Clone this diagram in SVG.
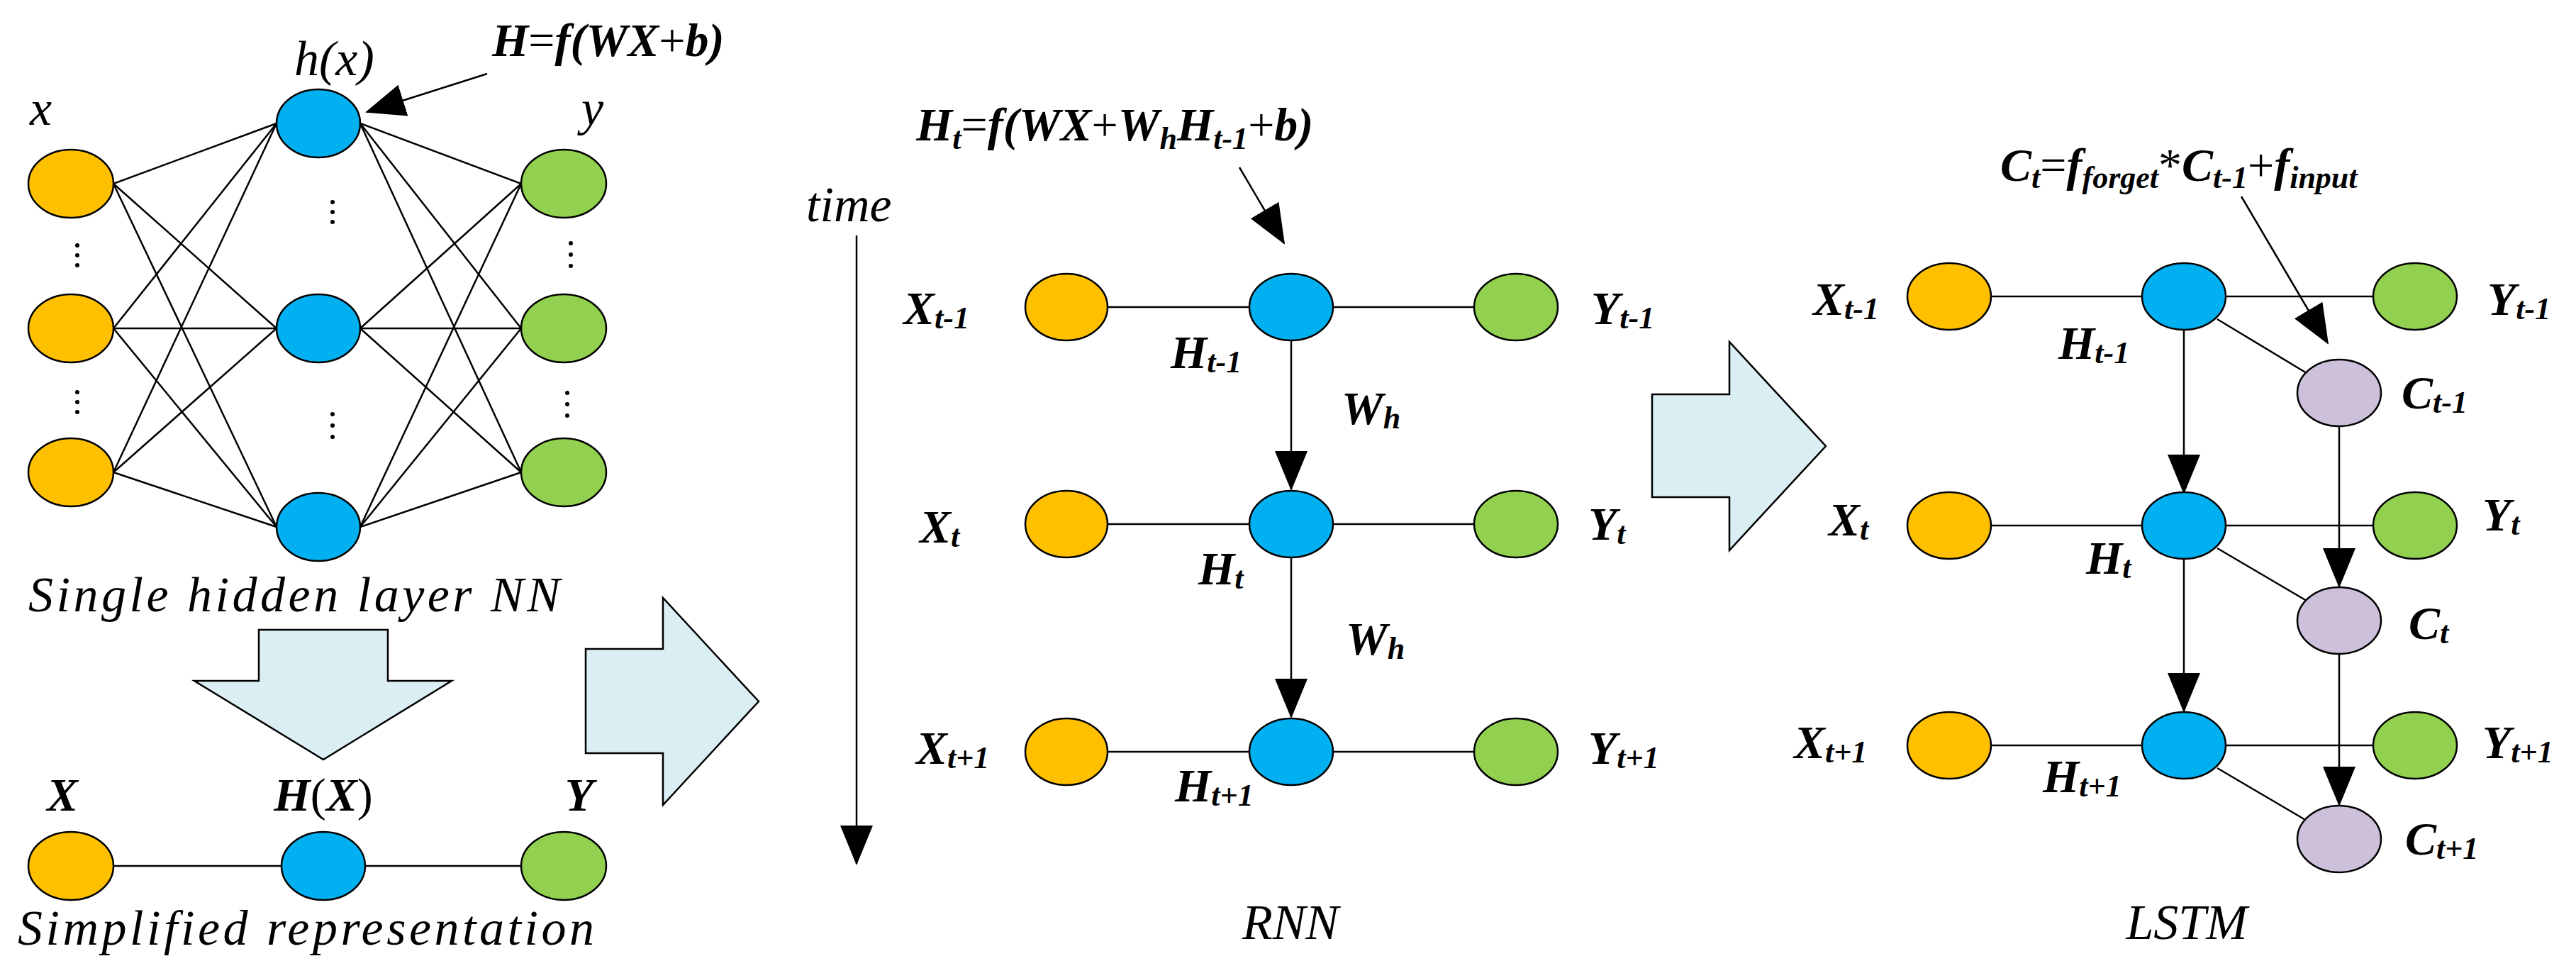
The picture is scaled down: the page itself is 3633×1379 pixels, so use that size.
<svg xmlns="http://www.w3.org/2000/svg" width="3633" height="1379" viewBox="0 0 3633 1379">
<style>
.n{stroke:#000;stroke-width:2.5}
.o{fill:#FFC000}.b{fill:#00B0F0}.g{fill:#92D050}.p{fill:#CCC0DA}
.l{stroke:#000;stroke-width:2.5;fill:none}
.big{fill:#DAEEF3;stroke:#000;stroke-width:2.5}
.t{font-family:"Liberation Serif",serif;font-style:italic;font-weight:bold;font-size:66px;fill:#000}
.c{font-family:"Liberation Serif",serif;font-style:italic;font-size:70px;fill:#000}
.s{font-size:44px}
.u{font-weight:normal;font-style:normal}
.d{font-family:"Liberation Serif",serif;font-size:40px;fill:#000}
</style>
<defs>
<marker id="ah" markerUnits="userSpaceOnUse" markerWidth="56" markerHeight="46" refX="54" refY="23" orient="auto">
<path d="M0,0 L56,23 L0,46 z" fill="#000"/>
</marker>
</defs>
<g id="connectors">
<!-- NN edges -->
<g class="l">
<line x1="160" y1="259" x2="390" y2="174"/><line x1="160" y1="259" x2="390" y2="463"/><line x1="160" y1="259" x2="390" y2="743"/>
<line x1="160" y1="463" x2="390" y2="174"/><line x1="160" y1="463" x2="390" y2="463"/><line x1="160" y1="463" x2="390" y2="743"/>
<line x1="160" y1="666" x2="390" y2="174"/><line x1="160" y1="666" x2="390" y2="463"/><line x1="160" y1="666" x2="390" y2="743"/>
<line x1="508" y1="174" x2="735" y2="259"/><line x1="508" y1="174" x2="735" y2="463"/><line x1="508" y1="174" x2="735" y2="666"/>
<line x1="508" y1="463" x2="735" y2="259"/><line x1="508" y1="463" x2="735" y2="463"/><line x1="508" y1="463" x2="735" y2="666"/>
<line x1="508" y1="743" x2="735" y2="259"/><line x1="508" y1="743" x2="735" y2="463"/><line x1="508" y1="743" x2="735" y2="666"/>
<line x1="160" y1="1221" x2="735" y2="1221"/>
<!-- RNN -->
<line x1="1504" y1="433" x2="2138" y2="433"/><line x1="1504" y1="739" x2="2138" y2="739"/><line x1="1504" y1="1060" x2="2138" y2="1060"/>
<!-- LSTM -->
<line x1="2749" y1="418" x2="3406" y2="418"/><line x1="2749" y1="741" x2="3406" y2="741"/><line x1="2749" y1="1051" x2="3406" y2="1051"/>
<line x1="3127" y1="450" x2="3253" y2="526"/><line x1="3127" y1="773" x2="3253" y2="847"/><line x1="3127" y1="1083" x2="3253" y2="1157"/>
</g>
<g class="l" marker-end="url(#ah)">
<line x1="687" y1="104" x2="517" y2="158"/>
<line x1="1208" y1="332" x2="1208" y2="1218"/>
<line x1="1748" y1="236" x2="1811" y2="343"/>
<line x1="1821" y1="481" x2="1821" y2="690"/>
<line x1="1821" y1="787" x2="1821" y2="1011"/>
<line x1="3080" y1="466" x2="3080" y2="695"/>
<line x1="3080" y1="789" x2="3080" y2="1003"/>
<line x1="3299" y1="602" x2="3299" y2="827"/>
<line x1="3299" y1="923" x2="3299" y2="1135"/>
<line x1="3161" y1="277" x2="3283" y2="484"/>
</g>
</g>
<g id="bigarrows">
<polygon class="big" points="365,888 547,888 547,960 637,960 456,1071 274,960 365,960"/>
<polygon class="big" points="826,915 935,915 935,843 1070,989 935,1135 935,1062 826,1062"/>
<polygon class="big" points="2330,556 2439,556 2439,482 2575,629 2439,776 2439,701 2330,701"/>
</g>
<g id="nn">
<g id="nn-x1"><ellipse class="n o" cx="100" cy="259" rx="60" ry="48"/></g>
<g id="nn-x2"><ellipse class="n o" cx="100" cy="463" rx="60" ry="48"/></g>
<g id="nn-x3"><ellipse class="n o" cx="100" cy="666" rx="60" ry="48"/></g>
<g id="nn-h1"><ellipse class="n b" cx="449" cy="174" rx="59" ry="48"/></g>
<g id="nn-h2"><ellipse class="n b" cx="449" cy="463" rx="59" ry="48"/></g>
<g id="nn-h3"><ellipse class="n b" cx="449" cy="743" rx="59" ry="48"/></g>
<g id="nn-y1"><ellipse class="n g" cx="795" cy="259" rx="60" ry="48"/></g>
<g id="nn-y2"><ellipse class="n g" cx="795" cy="463" rx="60" ry="48"/></g>
<g id="nn-y3"><ellipse class="n g" cx="795" cy="666" rx="60" ry="48"/></g>
<g fill="#000">
<circle cx="109" cy="346" r="3"/><circle cx="109" cy="360" r="3"/><circle cx="109" cy="374" r="3"/>
<circle cx="109" cy="553" r="3"/><circle cx="109" cy="567" r="3"/><circle cx="109" cy="581" r="3"/>
<circle cx="469" cy="285" r="3"/><circle cx="469" cy="299" r="3"/><circle cx="469" cy="313" r="3"/>
<circle cx="469" cy="584" r="3"/><circle cx="469" cy="600" r="3"/><circle cx="469" cy="616" r="3"/>
<circle cx="805" cy="343" r="3"/><circle cx="805" cy="359" r="3"/><circle cx="805" cy="375" r="3"/>
<circle cx="800" cy="554" r="3"/><circle cx="800" cy="570" r="3"/><circle cx="800" cy="586" r="3"/>
</g>
<text class="c" x="42" y="176">x</text>
<text class="c" x="415" y="106">h(x)</text>
<text class="c" x="820" y="176">y</text>
<text class="t" x="694" y="79">H<tspan class="u">=</tspan>f(WX<tspan class="u">+</tspan>b)</text>
<text class="c" x="40" y="862" textLength="750" lengthAdjust="spacing">Single hidden layer NN</text>
</g>
<g id="simple">
<g id="s-x"><ellipse class="n o" cx="100" cy="1221" rx="60" ry="48"/></g>
<g id="s-h"><ellipse class="n b" cx="456" cy="1221" rx="59" ry="48"/></g>
<g id="s-y"><ellipse class="n g" cx="795" cy="1221" rx="60" ry="48"/></g>
<text class="t" x="88" y="1143" text-anchor="middle">X</text>
<text class="t" x="456" y="1143" text-anchor="middle">H<tspan class="u">(</tspan>X<tspan class="u">)</tspan></text>
<text class="t" x="817" y="1143" text-anchor="middle">Y</text>
<text class="c" x="25" y="1332" textLength="813" lengthAdjust="spacing">Simplified representation</text>
</g>
<g id="rnn">
<text class="c" x="1137" y="312">time</text>
<text class="t" x="1292" y="198">H<tspan class="s" dy="12">t</tspan><tspan class="u" dy="-12">=</tspan>f(WX<tspan class="u">+</tspan>W<tspan class="s" dy="12">h</tspan><tspan dy="-12">H</tspan><tspan class="s" dy="12">t-1</tspan><tspan class="u" dy="-12">+</tspan>b)</text>
<g id="r-x1"><ellipse class="n o" cx="1504" cy="433" rx="58" ry="47"/></g>
<g id="r-h1"><ellipse class="n b" cx="1821" cy="433" rx="59" ry="47"/></g>
<g id="r-y1"><ellipse class="n g" cx="2138" cy="433" rx="59" ry="47"/></g>
<g id="r-x2"><ellipse class="n o" cx="1504" cy="739" rx="58" ry="47"/></g>
<g id="r-h2"><ellipse class="n b" cx="1821" cy="739" rx="59" ry="47"/></g>
<g id="r-y2"><ellipse class="n g" cx="2138" cy="739" rx="59" ry="47"/></g>
<g id="r-x3"><ellipse class="n o" cx="1504" cy="1060" rx="58" ry="47"/></g>
<g id="r-h3"><ellipse class="n b" cx="1821" cy="1060" rx="59" ry="47"/></g>
<g id="r-y3"><ellipse class="n g" cx="2138" cy="1060" rx="59" ry="47"/></g>
<text class="t" x="1274" y="457">X<tspan class="s" dy="6">t-1</tspan></text>
<text class="t" x="1297" y="765">X<tspan class="s" dy="6">t</tspan></text>
<text class="t" x="1292" y="1077">X<tspan class="s" dy="6">t+1</tspan></text>
<text class="t" x="1651" y="519">H<tspan class="s" dy="6">t-1</tspan></text>
<text class="t" x="1690" y="824">H<tspan class="s" dy="6">t</tspan></text>
<text class="t" x="1657" y="1130">H<tspan class="s" dy="6">t+1</tspan></text>
<text class="t" x="2244" y="457">Y<tspan class="s" dy="6">t-1</tspan></text>
<text class="t" x="2240" y="761">Y<tspan class="s" dy="6">t</tspan></text>
<text class="t" x="2240" y="1077">Y<tspan class="s" dy="6">t+1</tspan></text>
<text class="t" x="1892" y="598">W<tspan class="s" dy="6">h</tspan></text>
<text class="t" x="1898" y="923">W<tspan class="s" dy="6">h</tspan></text>
<text class="c" x="1820" y="1324" text-anchor="middle">RNN</text>
</g>
<g id="lstm">
<text class="t" x="2821" y="255">C<tspan class="s" dy="10">t</tspan><tspan class="u" dy="-10">=</tspan>f<tspan class="s" dy="10">forget</tspan><tspan class="u" dy="-10">*</tspan>C<tspan class="s" dy="10">t-1</tspan><tspan class="u" dy="-10">+</tspan>f<tspan class="s" dy="10">input</tspan></text>
<g id="l-x1"><ellipse class="n o" cx="2749" cy="418" rx="59" ry="47"/></g>
<g id="l-h1"><ellipse class="n b" cx="3080" cy="418" rx="59" ry="47"/></g>
<g id="l-y1"><ellipse class="n g" cx="3406" cy="418" rx="59" ry="47"/></g>
<g id="l-c1"><ellipse class="n p" cx="3299" cy="554" rx="59" ry="47"/></g>
<g id="l-x2"><ellipse class="n o" cx="2749" cy="741" rx="59" ry="47"/></g>
<g id="l-h2"><ellipse class="n b" cx="3080" cy="741" rx="59" ry="47"/></g>
<g id="l-y2"><ellipse class="n g" cx="3406" cy="741" rx="59" ry="47"/></g>
<g id="l-c2"><ellipse class="n p" cx="3299" cy="875" rx="59" ry="47"/></g>
<g id="l-x3"><ellipse class="n o" cx="2749" cy="1051" rx="59" ry="47"/></g>
<g id="l-h3"><ellipse class="n b" cx="3080" cy="1051" rx="59" ry="47"/></g>
<g id="l-y3"><ellipse class="n g" cx="3406" cy="1051" rx="59" ry="47"/></g>
<g id="l-c3"><ellipse class="n p" cx="3299" cy="1183" rx="59" ry="47"/></g>
<text class="t" x="2557" y="444">X<tspan class="s" dy="6">t-1</tspan></text>
<text class="t" x="2579" y="755">X<tspan class="s" dy="6">t</tspan></text>
<text class="t" x="2530" y="1069">X<tspan class="s" dy="6">t+1</tspan></text>
<text class="t" x="2903" y="506">H<tspan class="s" dy="6">t-1</tspan></text>
<text class="t" x="2942" y="809">H<tspan class="s" dy="6">t</tspan></text>
<text class="t" x="2881" y="1117">H<tspan class="s" dy="6">t+1</tspan></text>
<text class="t" x="3508" y="444">Y<tspan class="s" dy="6">t-1</tspan></text>
<text class="t" x="3501" y="748">Y<tspan class="s" dy="6">t</tspan></text>
<text class="t" x="3501" y="1069">Y<tspan class="s" dy="6">t+1</tspan></text>
<text class="t" x="3387" y="576">C<tspan class="s" dy="6">t-1</tspan></text>
<text class="t" x="3397" y="901">C<tspan class="s" dy="6">t</tspan></text>
<text class="t" x="3392" y="1205">C<tspan class="s" dy="6">t+1</tspan></text>
<text class="c" x="3084" y="1324" text-anchor="middle">LSTM</text>
</g>
</svg>
